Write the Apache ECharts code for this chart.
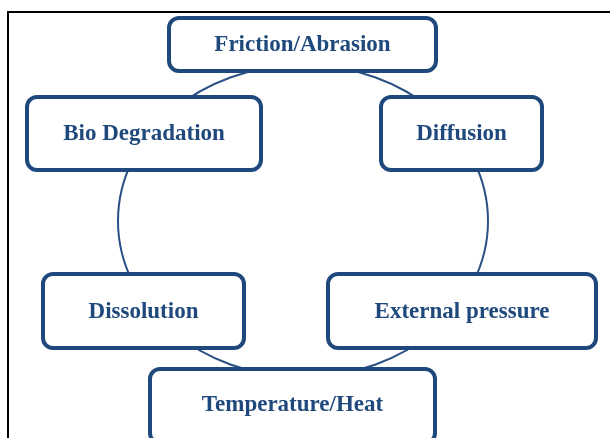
<!DOCTYPE html>
<html>
<head>
<meta charset="utf-8">
<script src="https://cdn.jsdelivr.net/npm/echarts@6/dist/echarts.min.js"></script>
<style>
  html, body { margin: 0; padding: 0; background: #fff; }
  #chart { width: 610px; height: 438px; }
</style>
</head>
<body>
<div id="chart"></div>
<script>
// factors, clockwise from the top box
const labels = ['Friction/Abrasion', 'Bio Degradation', 'Diffusion', 'Dissolution', 'External pressure', 'Temperature/Heat']

// layout: box frames as [left, top, right, bottom]
const frames = [
  [167, 16, 438, 73],
  [25, 95, 263, 172],
  [379, 95, 544, 172],
  [41, 272, 246, 350],
  [326, 272, 598, 350],
  [148, 367, 437, 445]
]
const textShift = [1, 1, 1, 1, 1, -1]
const ring = { cx: 303, cy: 221, rx: 185, ry: 156 }
const blue = '#1F497D'

const chart = echarts.init(document.getElementById('chart'))

const elements = [
  {
    type: 'line',
    shape: { x1: 7, y1: 12, x2: 610, y2: 12 },
    style: { stroke: '#000', lineWidth: 2 }
  },
  {
    type: 'line',
    shape: { x1: 8, y1: 11, x2: 8, y2: 438 },
    style: { stroke: '#000', lineWidth: 2 }
  },
  {
    type: 'ellipse',
    shape: ring,
    style: { fill: 'none', stroke: '#2A5085', lineWidth: 2 }
  }
]

labels.forEach((name, i) => {
  const [l, t, r, b] = frames[i]
  elements.push({
    type: 'rect',
    shape: { x: l + 2, y: t + 2, width: r - l - 4, height: b - t - 4, r: 10 },
    style: { fill: '#fff', stroke: blue, lineWidth: 4 },
    textContent: {
      style: {
        text: name,
        font: 'bold 23px "Liberation Serif", "Times New Roman", serif',
        fill: blue
      }
    },
    textConfig: { position: 'inside', offset: [0, textShift[i]] }
  })
})

chart.setOption({
  animation: false,
  graphic: { elements }
})
</script>
</body>
</html>
